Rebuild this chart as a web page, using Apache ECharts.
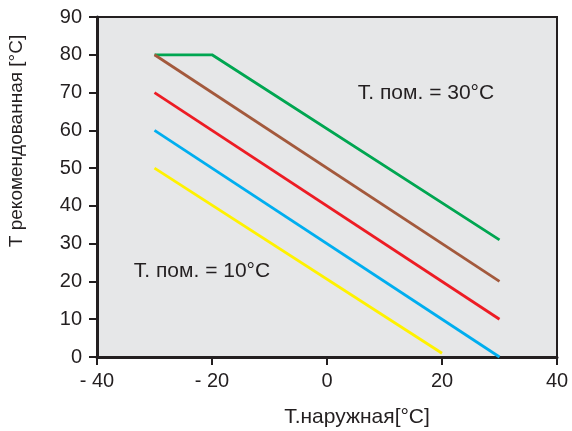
<!DOCTYPE html>
<html><head><meta charset="utf-8">
<script src="https://cdn.jsdelivr.net/npm/echarts@6/dist/echarts.min.js"></script>
<style>html,body{margin:0;padding:0;background:#fff}#c{width:572px;height:431px}</style>
</head><body><div id="c"></div>
<script>
// Data (outdoor temperature, recommended temperature)
const greenLine  = [[-30, 80], [-20, 80], [30, 31]];
const brownLine  = [[-30, 80], [30, 20]];
const redLine    = [[-30, 70], [30, 10]];
const blueLine   = [[-30, 60], [30, 0]];
const yellowLine = [[-30, 50], [20, 1]];
const xTicks = [-40, -20, 0, 20, 40];
const yTicks = [0, 10, 20, 30, 40, 50, 60, 70, 80, 90];
const xTitle = 'T.наружная[°C]';
const yTitle = 'T рекомендованная [°C]';
const noteHigh = 'T. пом. = 30°C';
const noteLow = 'T. пом. = 10°C';

const FONT = 'Liberation Sans, Arial, sans-serif';
const TXT = '#231f20';
const chart = echarts.init(document.getElementById('c'));
function mk(data, color) {
  return { type: 'line', data: data, symbol: 'none', lineStyle: { color: color, width: 2.8 }, silent: true, z: 3 };
}
chart.setOption({
  animation: false,
  grid: { left: 97, right: 15, top: 17, bottom: 74, show: true, backgroundColor: '#e6e7e8', borderColor: TXT, borderWidth: 2 },
  xAxis: {
    type: 'value', min: xTicks[0], max: xTicks[xTicks.length - 1], interval: 20,
    axisLine: { onZero: false, lineStyle: { color: TXT, width: 3 } },
    axisTick: { show: true, length: 8, lineStyle: { color: TXT, width: 2 } },
    axisLabel: { fontSize: 20, color: TXT, fontFamily: FONT, margin: 14,
      formatter: v => v < 0 ? '- ' + Math.abs(v) : String(v) },
    splitLine: { show: false }
  },
  yAxis: {
    type: 'value', min: yTicks[0], max: yTicks[yTicks.length - 1], interval: 10,
    axisLine: { show: true, onZero: false, lineStyle: { color: TXT, width: 3 } },
    axisTick: { show: true, length: 8, lineStyle: { color: TXT, width: 2 } },
    axisLabel: { fontSize: 20, color: TXT, fontFamily: FONT, margin: 15 },
    splitLine: { show: false }
  },
  series: [
    mk(greenLine, '#00a651'),
    mk(brownLine, '#a3593c'),
    mk(redLine, '#ed1c24'),
    mk(blueLine, '#00aeef'),
    mk(yellowLine, '#fff200')
  ],
  graphic: [
    { type: 'text', x: 17, y: 141, rotation: Math.PI / 2,
      style: { text: yTitle, fontSize: 19, fontFamily: FONT, fill: TXT, align: 'center', verticalAlign: 'middle' } },
    { type: 'text', x: 357, y: 417,
      style: { text: xTitle, fontSize: 21, fontFamily: FONT, fill: TXT, align: 'center', verticalAlign: 'middle' } },
    { type: 'text', x: 426, y: 93, z: 10,
      style: { text: noteHigh, fontSize: 21, fontFamily: FONT, fill: TXT, align: 'center', verticalAlign: 'middle' } },
    { type: 'text', x: 202, y: 271, z: 10,
      style: { text: noteLow, fontSize: 21, fontFamily: FONT, fill: TXT, align: 'center', verticalAlign: 'middle' } }
  ]
});
</script></body></html>
